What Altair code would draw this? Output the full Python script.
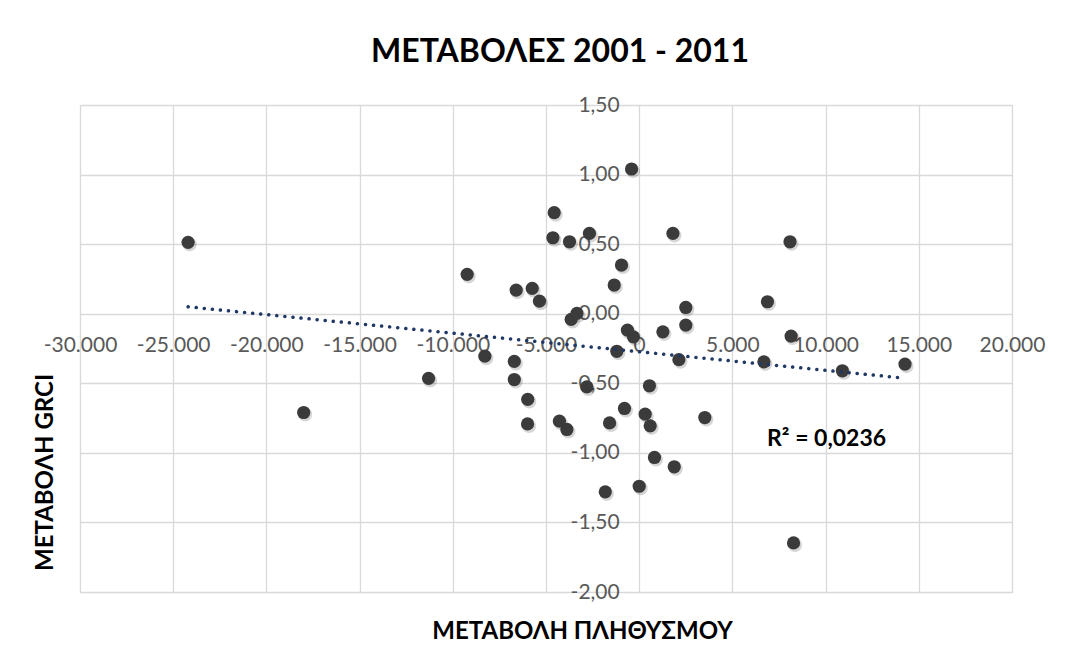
import altair as alt
import pandas as pd

# Population change (x) and GRCI change (y)
pop_change = [-24200, -18000, -11300, -9230, -8280, -6700, -6700, -6600, -5980, -5990,
              -5740, -5350, -4560, -4630, -4280, -3880, -3740, -3650, -3340, -2810,
              -2670, -1820, -1590, -1340, -1200, -950, -790, -630, -410, -310,
              0, 320, 550, 590, 820, 1270, 1810, 1880, 2130, 2500,
              2500, 3520, 6690, 6880, 8090, 8150, 8280, 10900, 14260]
grci_change = [0.513, -0.71, -0.465, 0.283, -0.305, -0.343, -0.473, 0.17, -0.616, -0.792,
               0.182, 0.09, 0.726, 0.546, -0.772, -0.832, 0.517, -0.041, 0.002, -0.526,
               0.577, -1.28, -0.785, 0.206, -0.27, 0.35, -0.681, -0.118, 1.04, -0.166,
               -1.24, -0.722, -0.518, -0.806, -1.033, -0.13, 0.577, -1.10, -0.33, 0.045,
               -0.082, -0.746, -0.346, 0.086, 0.517, -0.161, -1.647, -0.41, -0.362]

x_ticks = [-30000, -25000, -20000, -15000, -10000, -5000, 0, 5000, 10000, 15000, 20000]
y_ticks = [-2.0, -1.5, -1.0, -0.5, 0.0, 0.5, 1.0, 1.5]

r2_label = ["R² = 0,0236"]
r2_x = [6860]
r2_y = [-0.90]

df = pd.DataFrame({"x": pop_change, "y": grci_change})
ann = pd.DataFrame({"x": r2_x, "y": r2_y, "label": r2_label})

W, H = 932, 487
x_dom = [x_ticks[0], x_ticks[-1]]
y_dom = [y_ticks[0], y_ticks[-1]]
y0_from_bottom = H * (0 - y_dom[0]) / (y_dom[1] - y_dom[0])
x0_from_left = W * (0 - x_dom[0]) / (x_dom[1] - x_dom[0])

FONT = "Lato"
GRID = "#d9d9d9"
LABEL = "#595959"

x_enc = alt.X(
    "x:Q",
    scale=alt.Scale(domain=x_dom, nice=False, zero=False),
    axis=alt.Axis(
        values=x_ticks, orient="bottom", offset=-y0_from_bottom,
        domain=False, ticks=False, grid=True, gridColor=GRID, gridWidth=1.3,
        labelExpr="replace(replace(format(datum.value, ',.0f'), ',', '.'), '\u2212', '-')",
        labelFont=FONT, labelFontSize=21, labelColor=LABEL, labelPadding=21,
        labelOverlap=False, labelFlush=False,
        title="ΜΕΤΑΒΟΛΗ ΠΛΗΘΥΣΜΟΥ", titleFont=FONT, titleFontSize=24,
        titleFontWeight="bold", titleColor="#000000",
        titleX=502, titleY=318, titleBaseline="middle", titleAlign="center",
    ),
)
y_enc = alt.Y(
    "y:Q",
    scale=alt.Scale(domain=y_dom, nice=False, zero=False),
    axis=alt.Axis(
        values=y_ticks, orient="left", offset=-x0_from_left,
        domain=False, ticks=False, grid=True, gridColor=GRID, gridWidth=1.3,
        labelExpr="replace(replace(format(datum.value, '.2f'), '.', ','), '\u2212', '-')",
        labelFont=FONT, labelFontSize=21, labelColor=LABEL, labelPadding=20,
        labelOverlap=False, labelFlush=False,
        title="ΜΕΤΑΒΟΛΗ GRCI", titleFont=FONT, titleFontSize=24,
        titleFontWeight="bold", titleColor="#000000",
        titleX=-594, titleY=367, titleBaseline="middle", titleAlign="center",
        titleAngle=270,
    ),
)

shadow = alt.Chart(df).mark_circle(
    size=200, color="#000000", opacity=0.16, xOffset=1.5, yOffset=2
).encode(x=x_enc, y=y_enc)

points = alt.Chart(df).mark_circle(
    size=175, color="#3b3b3b", opacity=1
).encode(x=x_enc, y=y_enc)

trend = alt.Chart(df).transform_regression("x", "y").mark_line(
    color="#1f3864", strokeWidth=3.5, strokeDash=[0.1, 8], strokeCap="round"
).encode(x=x_enc, y=y_enc)

r2 = alt.Chart(ann).mark_text(
    align="left", baseline="middle", font=FONT, fontSize=23, fontWeight="bold",
    color="#000000"
).encode(x=x_enc, y=y_enc, text="label:N")

chart = alt.layer(shadow, points, trend, r2).properties(
    width=W, height=H,
    title=alt.TitleParams(
        "ΜΕΤΑΒΟΛΕΣ 2001 - 2011", font=FONT, fontSize=32, fontWeight="bold",
        color="#000000", anchor="middle", frame="group", offset=25, dx=14,
    ),
    autosize=alt.AutoSizeParams(type="none"),
    padding={"left": 72, "top": 97, "right": 40, "bottom": 60},
).configure_view(stroke=None).configure(background="#ffffff")

chart.save("out.html", embed_options={"renderer": "svg", "actions": False})
